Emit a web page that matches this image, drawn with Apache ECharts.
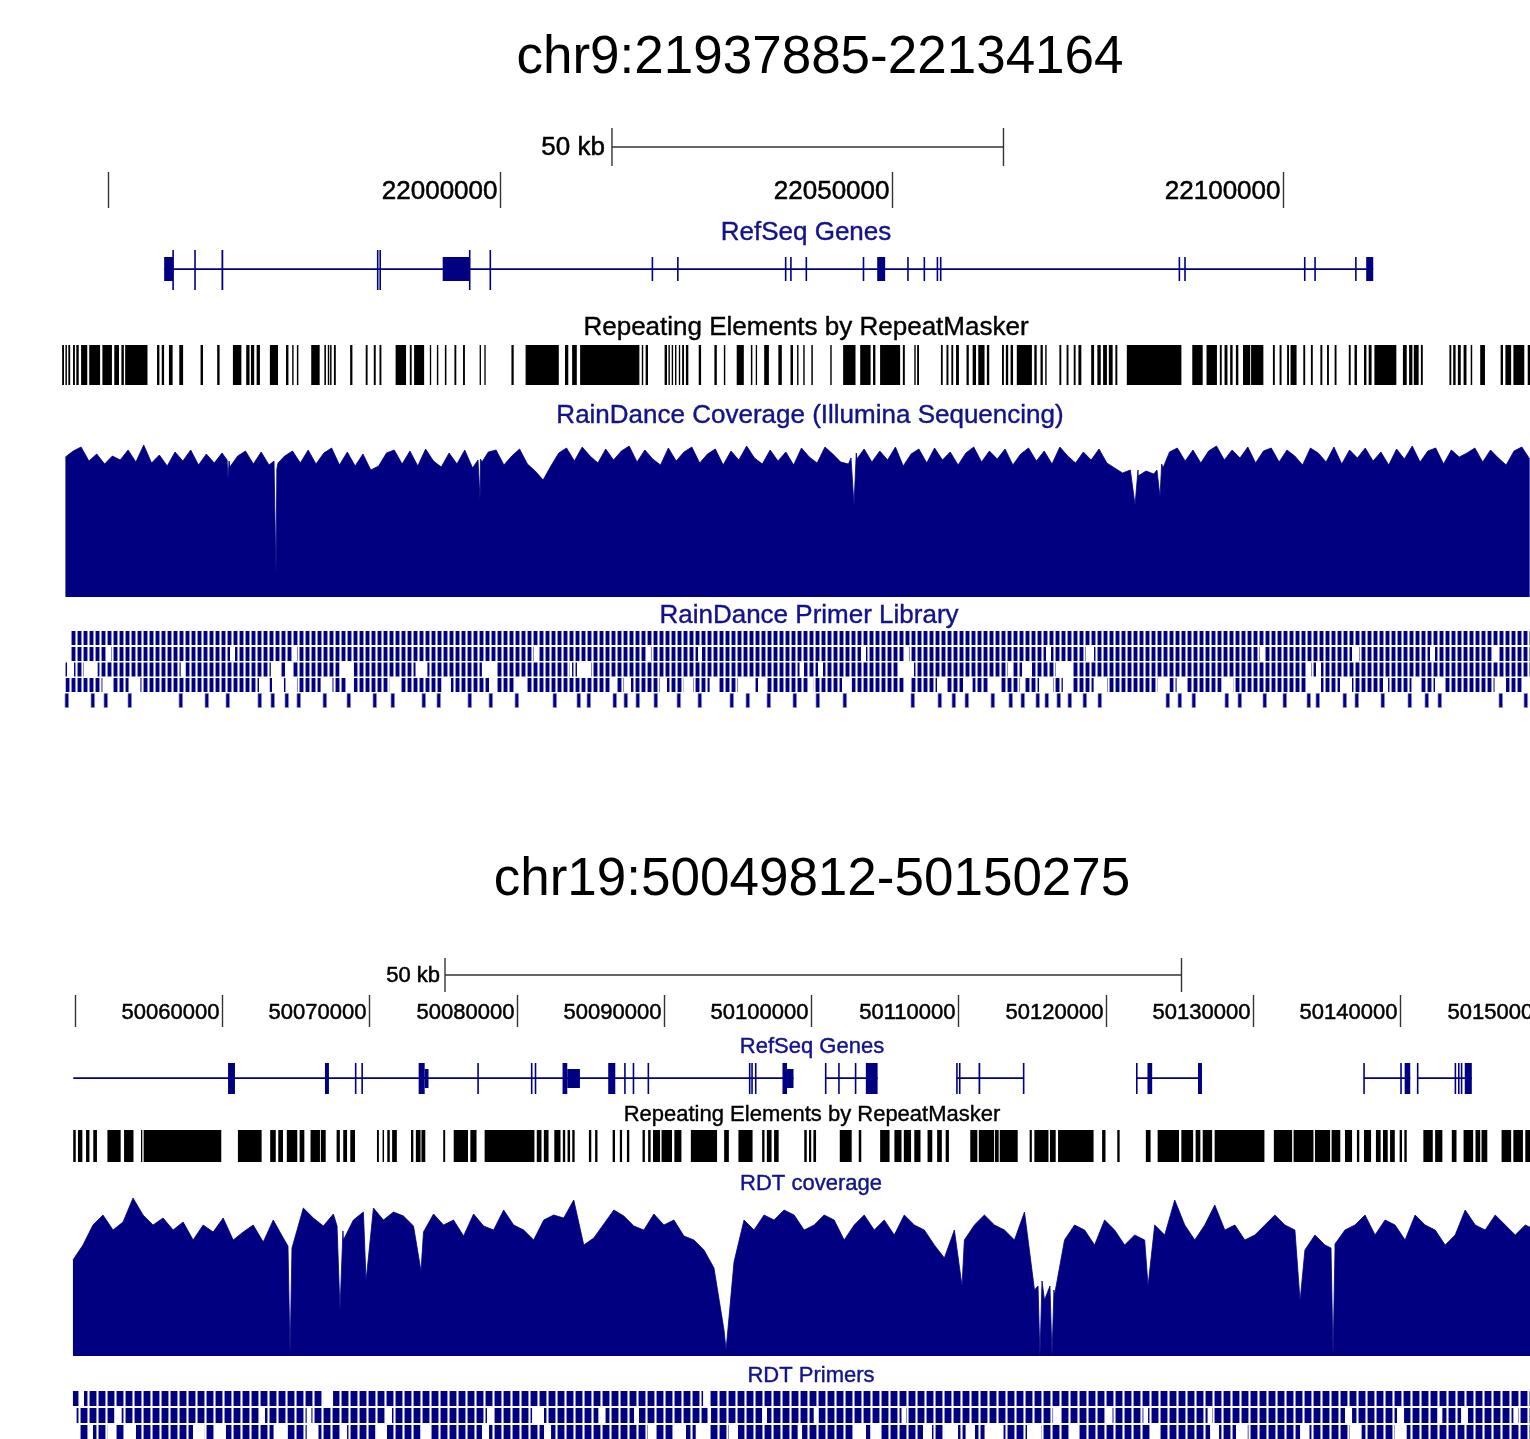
<!DOCTYPE html>
<html><head><meta charset="utf-8">
<script src="https://cdn.jsdelivr.net/npm/echarts@6/dist/echarts.min.js"></script>
<style>html,body{margin:0;padding:0;background:#fff}#c{width:1530px;height:1439px}</style>
</head><body><div id="c"></div>
<script>
// ===================== DATA (genomic positions in kb) =====================
const title1 = 'chr9:21937885-22134164';
const title2 = 'chr19:50049812-50150275';
const trackLabels1 = ['RefSeq Genes', 'Repeating Elements by RepeatMasker', 'RainDance Coverage (Illumina Sequencing)', 'RainDance Primer Library'];
const trackLabels2 = ['RefSeq Genes', 'Repeating Elements by RepeatMasker', 'RDT coverage', 'RDT Primers'];
const view1 = [21936.145, 22131.541];
const view2 = [50044.928, 50148.80];
const ticks1 = [21950, 22000, 22050, 22100];
const tickLabels1 = ['', '22000000', '22050000', '22100000'];
const ticks2 = [50050, 50060, 50070, 50080, 50090, 50100, 50110, 50120, 50130, 50140, 50150];
const tickLabels2 = ['', '50060000', '50070000', '50080000', '50090000', '50100000', '50110000', '50120000', '50130000', '50140000', '50150000'];
const scaleBar1 = [22014.30, 22064.30];
const scaleBar2 = [50075.14, 50125.14];
const scaleLabel = '50 kb';

// ---- panel 1 genes ----
const genes1Line = [[21957.11, 22111.52]];
const genes1Tall = [[21958.15, 21958.28], [21960.95, 21961.08], [21964.43, 21964.66], [21984.28, 21984.40], [21984.60, 21984.72], [21996.03, 21996.16], [21998.66, 21998.85]];
const genes1Std = [[21957.11, 21958.23], [21992.68, 21996.09], [22019.36, 22019.48], [22022.61, 22022.81], [22036.38, 22036.50], [22037.05, 22037.17], [22039.02, 22039.14],
  [22046.32, 22046.44], [22048.17, 22049.19], [22052.00, 22052.12], [22054.09, 22054.21], [22055.76, 22055.88], [22056.18, 22056.30], [22086.66, 22086.78],
  [22087.38, 22087.50], [22102.67, 22102.79], [22103.99, 22104.11], [22109.20, 22109.32], [22110.62, 22111.52]];

// ---- panel 1 repeats ----
const repeats1 = [[21944.08,21944.32],[21944.50,21944.69],[21944.87,21945.11],[21945.47,21945.71],[21945.89,21946.20],[21946.50,21947.29],[21947.54,21948.93],[21949.22,21950.44],[21950.74,21951.34],[21951.65,21951.96],[21952.13,21954.98],
[21956.20,21956.50],[21956.80,21957.10],[21957.72,21958.19],[21959.04,21959.53],[21961.76,21962.07],[21963.88,21964.19],
[21965.89,21966.97],[21967.59,21968.01],[21968.19,21968.61],[21968.92,21969.34],[21970.61,21971.65],[21972.67,21972.98],[21973.46,21973.64],[21974.06,21974.25],
[21975.89,21976.97],[21977.57,21977.77],[21978.01,21978.19],[21978.30,21978.49],[21978.79,21979.03],[21980.86,21981.15],[21982.85,21983.09],[21983.88,21984.13],[21984.61,21984.85],
[21986.67,21988.00],[21988.48,21988.72],[21989.03,21990.31],[21991.04,21991.21],[21991.94,21992.12],[21992.96,21993.16],[21994.18,21994.42],[21995.28,21995.52],
[21997.40,21997.57],[21998.00,21998.17],[22001.46,22001.75],[22003.27,22007.51],[22008.30,22008.72],[22009.21,22009.81],[22010.23,22017.80],[22018.11,22018.29],[22018.60,22018.90],
[22021.02,22021.33],[22021.51,22021.69],[22021.93,22022.11],[22022.35,22022.53],[22022.84,22023.01],[22023.26,22023.50],[22023.74,22024.05],
[22025.38,22025.68],[22027.38,22027.69],[22028.59,22028.77],[22030.23,22031.14],[22032.04,22032.23],[22032.66,22032.83],[22033.74,22034.34],[22035.55,22035.99],
[22037.10,22037.42],[22037.94,22038.12],[22038.73,22038.91],[22039.76,22039.95],[22042.18,22042.36],[22043.82,22045.40],[22046.00,22047.33],[22047.64,22047.94],[22048.54,22051.10],[22051.45,22051.70],[22052.91,22053.09],[22053.27,22053.51],
[22056.31,22056.54],[22057.02,22057.27],[22057.64,22057.88],[22058.24,22058.61],[22059.58,22059.87],[22060.36,22060.79],[22061.08,22061.88],[22062.18,22062.48],
[22064.11,22064.35],[22064.60,22064.90],[22065.21,22065.52],[22066.00,22067.93],[22068.24,22068.54],[22069.03,22069.32],[22069.63,22069.81],
[22071.44,22071.68],[22072.36,22072.60],[22073.27,22073.51],[22073.87,22074.24],[22075.50,22075.87],[22076.29,22076.72],[22077.02,22077.51],[22077.75,22078.24],[22078.59,22078.84],
[22080.05,22087.02],[22088.41,22089.74],[22090.23,22091.56],[22091.93,22092.17],[22092.53,22092.90],[22093.25,22093.56],[22093.98,22094.29],[22094.89,22095.81],[22095.92,22097.49],
[22098.71,22098.95],[22099.56,22099.81],[22100.52,22100.76],[22100.96,22101.73],[22102.59,22102.83],[22103.56,22103.80],[22104.77,22105.02],[22105.62,22105.86],[22106.59,22106.83],
[22108.40,22108.64],[22109.13,22109.44],[22110.34,22110.65],[22110.94,22111.31],[22111.67,22114.47],[22115.31,22115.80],[22116.10,22116.52],[22116.70,22117.32],[22117.61,22117.85],
[22121.25,22121.49],[22121.73,22122.04],[22122.33,22122.70],[22123.06,22123.43],[22123.97,22124.16],[22125.18,22125.79],[22127.79,22128.09],[22128.40,22129.13],[22129.42,22130.81],[22131.25,22131.54]];

// ---- panel 1 coverage (1 kb bins) ----
const cov1Start = 21944.5;
const cov1Step = 1.0;
const cov1Vals = [140,146,150,136,143,133,141,137,147,135,
152,134,142,131,145,136,147,132,143,134,
144,130,141,146,133,145,132,128,141,146,
134,147,133,144,149,132,145,131,143,127,
131,144,147,133,146,131,148,136,130,144,
133,147,129,138,145,147,132,141,148,133,
126,117,131,144,149,136,150,141,134,148,
137,146,151,135,147,138,132,149,136,145,
150,134,143,148,132,146,137,151,139,133,
147,136,145,132,149,140,134,150,143,135,
133,144,148,135,146,137,150,131,143,148,
134,149,137,145,132,144,150,135,146,138,
148,132,143,149,136,146,133,150,141,134,
145,137,148,134,129,124,127,121,126,123,
133,145,149,136,147,134,146,151,137,147,
139,150,134,146,149,135,147,141,132,149,
144,135,150,133,147,139,149,136,145,132,
148,138,151,135,146,149,133,147,140,144,
149,135,147,139,132,146,150,138];
const cov1Dips = [[21965.15,137],[21965.26,118],[21965.40,136],[21971.14,136],[21971.39,22],[21971.65,134],
[21997.19,137],[21997.45,97],[21997.70,135],[22044.83,139],[22045.21,92],[22045.59,138],
[22080.71,128],[22081.10,92],[22081.48,127],[22083.90,127],[22084.29,100],[22084.67,129]];

// ---- panel 1 primers ----
const primers1Row1 = [[21945.09, 22131.54]];
const primers1Row2 = [[21945.21,21949.68],[21950.32,21965.52],[21966.16,21973.44],[21974.07,22004.34],[22004.85,22018.77],[22019.28,22025.29],[22025.80,22046.10],[22046.74,22051.60],[22052.23,22069.73],[22070.37,22074.84],[22075.86,22097.06],[22097.57,22108.81],[22109.70,22118.77],[22119.41,22126.69],[22127.58,22131.54]];
const primers1Row3 = [[21944.45,21944.70],[21945.60,21946.87],[21948.62,21959.22],[21959.84,21970.73],[21971.90,21972.54],[21973.44,21979.52],[21981.34,21989.21],[21990.73,21997.69],[21999.49,22008.90],[22009.20,22009.83],[22011.62,22038.25],[22038.82,22040.61],[22041.25,22050.96],[22052.87,22064.88],[22065.52,22066.67],[22067.94,22071.01],[22073.05,22103.06],[22103.57,22104.21],[22104.85,22131.54]];
const primers1Row4 = [[21944.50,21949.22],[21950.45,21952.56],[21954.08,21969.22],[21970.56,21970.88],[21972.41,21972.73],[21974.07,21977.09],[21978.61,21980.42],[21981.35,21985.88],[21987.28,21992.54],[21993.74,21998.60],[21999.49,22001.92],[22003.45,22014.05],[22014.94,22015.84],[22016.73,22020.43],[22021.33,22023.44],[22024.65,22026.77],[22027.97,22030.40],[22032.57,22032.95],[22034.05,22039.46],[22040.06,22043.68],[22044.92,22051.58],[22052.49,22055.81],[22057.02,22059.13],[22060.36,22062.45],[22063.98,22066.41],[22067.02,22068.84],[22070.62,22071.88],[22073.05,22075.81],[22077.52,22083.98],[22085.50,22086.41],[22087.61,22092.17],[22093.68,22103.06],[22104.85,22107.28],[22108.81,22112.77],[22113.41,22116.40],[22117.62,22119.41],[22120.64,22127.01],[22128.48,22130.65]];
const primers1Row5 = [21944.45,21947.77,21949.43,21952.49,21959.01,21962.33,21965.01,21969.09,21970.75,21972.54,21974.07,21977.40,21980.46,21983.78,21986.08,21990.04,21991.95,21995.91,21998.60,22001.92,22006.77,22009.83,22011.11,22014.43,22015.84,22017.37,22019.67,22022.61,22025.29,22029.37,22031.42,22034.10,22037.42,22040.36,22043.81,22052.49,22055.94,22057.73,22059.39,22062.71,22065.00,22066.54,22068.45,22069.60,22071.13,22072.54,22074.46,22076.37,22085.06,22086.59,22088.38,22092.59,22094.25,22097.44,22100.00,22103.06,22104.21,22107.66,22109.19,22112.51,22115.96,22118.13,22119.79,22127.58,22130.78];
const primerLen1 = 0.45;

// ---- panel 2 genes ----
const genes2Lines = [[50049.90,50098.80],[50100.97,50104.51],[50109.88,50114.41],[50122.09,50126.53],[50137.52,50140.67],[50141.16,50144.85]];
const genes2Full = [[50060.41,50060.88],[50066.99,50067.26],[50069.02,50069.10],[50069.46,50069.54],[50073.35,50073.76],[50077.33,50077.43],[50080.97,50081.05],[50081.23,50081.31],
[50083.12,50083.44],[50086.22,50086.70],[50087.30,50087.38],[50087.88,50087.96],[50088.89,50088.97],[50095.77,50095.85],[50095.93,50096.01],[50096.18,50096.26],[50098.05,50098.36],
[50100.93,50101.01],[50101.83,50101.91],[50102.96,50103.04],[50103.71,50104.51],[50109.84,50109.92],[50110.03,50110.11],[50111.36,50111.48],[50114.37,50114.45],
[50122.05,50122.13],[50122.83,50123.15],[50126.26,50126.53],[50137.48,50137.56],[50139.99,50140.07],[50140.29,50140.67],[50141.12,50141.20],[50143.68,50143.76],[50143.91,50143.99],[50144.10,50144.18],[50144.37,50144.85]];
const genes2Half = [[50073.76,50074.02],[50083.44,50084.30],[50098.36,50098.80]];

// ---- panel 2 repeats ----
const repeats2 = [[50049.90,50050.07],[50050.22,50050.52],[50050.77,50051.00],[50051.26,50051.51],[50052.22,50053.12],[50053.35,50053.99],[50054.50,50054.58],[50054.68,50059.95],
[50061.08,50062.69],[50063.27,50063.65],[50063.82,50064.14],[50064.40,50065.11],[50065.27,50065.59],[50066.01,50066.65],[50066.71,50067.04],
[50067.78,50068.00],[50068.23,50068.49],[50068.71,50069.03],[50070.52,50070.65],[50070.90,50071.00],[50071.22,50071.39],[50071.55,50071.87],
[50072.83,50072.99],[50073.16,50073.48],[50073.54,50073.80],[50075.02,50075.15],[50075.73,50076.70],[50076.86,50077.28],
[50077.83,50081.21],[50081.37,50081.69],[50081.85,50082.17],[50082.56,50082.98],[50083.14,50083.30],[50083.46,50083.63],[50083.78,50083.94],
[50084.91,50085.07],[50085.33,50085.49],[50086.52,50086.68],[50087.01,50087.16],[50087.49,50087.65],
[50088.55,50088.71],[50088.93,50089.10],[50089.26,50089.74],[50089.84,50090.55],[50090.71,50091.19],[50091.83,50093.61],[50094.09,50094.41],[50095.06,50096.02],
[50096.67,50096.83],[50096.99,50097.31],[50097.48,50097.79],[50099.53,50099.70],[50099.85,50100.00],[50100.15,50100.33],
[50101.94,50102.75],[50103.23,50103.40],[50104.68,50105.32],[50105.65,50106.13],[50106.29,50106.78],[50107.00,50107.42],[50107.90,50108.22],[50108.55,50108.87],[50109.13,50109.35],
[50110.80,50111.28],[50111.38,50112.41],[50112.47,50112.73],[50112.80,50114.02],[50114.83,50114.98],[50115.15,50116.11],[50116.21,50116.60],[50116.76,50119.17],
[50119.75,50119.98],[50120.78,50120.94],[50122.72,50123.04],[50123.52,50124.97],[50125.13,50125.93],[50126.10,50126.42],[50126.58,50127.22],[50127.39,50130.77],
[50131.41,50132.65],[50132.75,50134.10],[50134.20,50135.23],[50135.33,50135.92],[50136.24,50136.72],[50137.05,50137.21],[50137.53,50138.01],[50138.34,50138.66],[50138.82,50139.14],[50139.30,50139.62],[50139.95,50140.11],[50140.27,50140.43],
[50141.56,50142.20],[50142.36,50142.85],[50143.49,50143.81],[50144.29,50144.94],[50145.10,50145.42],[50145.51,50145.90],[50146.87,50147.52],[50147.67,50148.32],[50148.48,50148.80]];

// ---- panel 2 coverage (0.68 kb bins) ----
const cov2Start = 50049.88;
const cov2Step = 0.68;
const cov2Vals = [96,111,131,141,126,134,158,141,131,138,
126,134,116,131,124,138,116,124,131,114,
136,118,106,148,138,130,142,116,136,144,
148,136,144,140,130,124,142,131,136,120,
142,130,126,146,131,126,116,136,141,138,
156,111,118,132,146,140,130,126,142,131,
136,120,116,106,88,26,94,136,126,141,
136,146,141,126,131,141,136,116,131,141,
126,136,121,141,131,126,111,98,126,116,
131,141,131,126,116,144,66,56,61,116,
131,126,111,136,126,111,121,116,131,121,
156,131,116,131,151,126,131,116,121,131,
141,131,126,106,121,111,106,126,131,141,
121,136,131,116,141,131,126,111,121,146,
131,126,141,131,121,131,126];
const cov2Dips = [[50064.48,110],[50064.62,1],[50064.75,108],[50067.81,130],[50068.01,46],[50068.21,125],[50069.78,75],[50073.51,85],[50094.22,6],[50110.24,70],
[50115.40,70],[50115.53,0],[50115.67,75],[50116.21,70],[50116.35,0],[50116.48,66],[50122.87,70],[50133.19,55],[50135.29,108],[50135.43,0],[50135.56,112]];

// ---- panel 2 primers ----
const primers2Row1 = [[50049.88,50050.29],[50050.63,50066.86],[50067.54,50092.66],[50093.13,50148.80]];
const primers2Row2 = [[50050.13,50052.70],[50053.19,50062.51],[50062.92,50065.75],[50066.07,50071.07],[50071.54,50077.99],[50078.47,50081.05],[50081.86,50085.55],[50086.04,50087.97],[50088.31,50092.96],[50093.20,50096.66],[50097.00,50100.17],[50100.50,50106.13],[50106.44,50116.42],[50116.89,50119.98],[50120.46,50122.55],[50122.87,50126.91],[50127.22,50136.24],[50136.72,50139.77],[50140.25,50142.52],[50142.85,50144.12],[50144.59,50147.67],[50147.99,50148.80]];
const primers2Row3 = [[50050.29,50050.94],[50051.24,50052.22],[50052.74,50053.41],[50054.16,50058.03],[50058.83,50059.46],[50060.27,50063.50],[50064.46,50065.75],[50066.55,50068.01],[50068.49,50070.42],[50071.20,50073.48],[50074.12,50077.65],[50078.13,50081.86],[50082.34,50088.92],[50089.40,50090.69],[50091.50,50092.16],[50093.13,50094.42],[50095.03,50099.08],[50099.38,50102.91],[50103.72,50104.03],[50104.67,50107.59],[50108.20,50109.02],[50109.97,50110.48],[50111.12,50111.77],[50113.06,50114.65],[50115.63,50117.57],[50118.18,50123.04],[50123.68,50127.08],[50127.69,50128.84],[50129.64,50133.19],[50133.83,50136.57],[50137.37,50139.62],[50140.43,50148.80]];

// ===================== RENDERING =====================
const NAVY = '#000080';
const LABEL_NAVY = '#12128a';
const FONT = '"Liberation Sans", Arial, Helvetica, sans-serif';

function stripe(w, bar) {
  const c = document.createElement('canvas');
  c.width = w; c.height = 8;
  const g = c.getContext('2d');
  g.fillStyle = '#ffffff'; g.fillRect(0, 0, w, 8);
  g.fillStyle = NAVY; g.fillRect(0, 0, bar, 8);
  g.fillStyle = '#8d8dc8'; g.fillRect(bar, 0, 1, 8); g.fillRect(w - 1, 0, 1, 8);
  return { image: c, repeat: 'repeat' };
}
const pat1 = stripe(6, 3);
const pat2 = stripe(9, 6);

function bars(axis, data, top, height, fill, minW, stroke) {
  return {
    type: 'custom', xAxisIndex: axis, yAxisIndex: axis, data: data, silent: true, animation: false,
    renderItem: function (p, api) {
      const a = api.coord([api.value(0), top]);
      const b = api.coord([api.value(1), top + height]);
      const w = Math.max(b[0] - a[0], minW);
      return { type: 'rect', shape: { x: a[0], y: a[1], width: w, height: b[1] - a[1] },
        style: { fill: fill, stroke: stroke || null, lineWidth: stroke ? 0.7 : 0 } };
    }
  };
}

function labelStyle(text, fs, color, align, weightStroke) {
  return { text: text, font: fs + 'px ' + FONT, fill: color,
    stroke: weightStroke ? color : null, lineWidth: weightStroke || 0,
    align: align, verticalAlign: 'middle', textAlign: align, textVerticalAlign: 'middle' };
}

function axisTicks(axis, ticks, labels, y0, y1, fs) {
  return {
    type: 'custom', xAxisIndex: axis, yAxisIndex: axis, data: ticks.map(function (t, i) { return [t, i]; }),
    silent: true, animation: false,
    renderItem: function (p, api) {
      const a = api.coord([api.value(0), y0]);
      const b = api.coord([api.value(0), y1]);
      const x = Math.round(a[0]) + 0.5;
      return { type: 'group', children: [
        { type: 'line', shape: { x1: x, y1: a[1], x2: x, y2: b[1] }, style: { stroke: '#333', lineWidth: 1.4 } },
        { type: 'text', x: x - 3, y: (a[1] + b[1]) / 2 + 2,
          style: labelStyle(labels[p.dataIndex], fs, '#000', 'right', 0.5) }
      ] };
    }
  };
}

function scaleBar(axis, bar, yMid, half, fs, gap) {
  return {
    type: 'custom', xAxisIndex: axis, yAxisIndex: axis, data: [bar], silent: true, animation: false,
    renderItem: function (p, api) {
      const a = api.coord([api.value(0), yMid]);
      const b = api.coord([api.value(1), yMid]);
      const top = api.coord([api.value(0), yMid - half])[1];
      const bot = api.coord([api.value(0), yMid + half])[1];
      return { type: 'group', children: [
        { type: 'line', shape: { x1: a[0], y1: a[1], x2: b[0], y2: b[1] }, style: { stroke: '#333', lineWidth: 1.4 } },
        { type: 'line', shape: { x1: a[0], y1: top, x2: a[0], y2: bot }, style: { stroke: '#333', lineWidth: 1.4 } },
        { type: 'line', shape: { x1: b[0], y1: top, x2: b[0], y2: bot }, style: { stroke: '#333', lineWidth: 1.4 } },
        { type: 'text', x: a[0] - gap, y: a[1] + 1, style: labelStyle(scaleLabel, fs, '#000', 'right', 0.5) }
      ] };
    }
  };
}

function coverage(axis, start, step, vals, dips) {
  const pts = vals.map(function (v, i) { return [start + i * step, v]; }).concat(dips);
  pts.sort(function (a, b) { return a[0] - b[0]; });
  return {
    type: 'line', xAxisIndex: axis, yAxisIndex: axis, data: pts, showSymbol: false, symbol: 'none',
    silent: true, animation: false,
    lineStyle: { color: NAVY, width: 0.8 }, areaStyle: { color: NAVY, opacity: 1 }
  };
}

function txt(x, y, text, fs, color, ws) {
  return { type: 'text', x: x, y: y, silent: true, style: labelStyle(text, fs, color, 'center', ws) };
}

const H = 1439;
const option = {
  backgroundColor: '#ffffff',
  animation: false,
  grid: [
    { left: 0, right: 0, top: 0, bottom: 0 },
    { left: 0, right: 0, top: 437, height: 160 },
    { left: 0, right: 0, top: 0, bottom: 0 },
    { left: 0, right: 0, top: 1186, height: 170 }
  ],
  xAxis: [
    { type: 'value', gridIndex: 0, min: view1[0], max: view1[1], show: false },
    { type: 'value', gridIndex: 1, min: view1[0], max: view1[1], show: false },
    { type: 'value', gridIndex: 2, min: view2[0], max: view2[1], show: false },
    { type: 'value', gridIndex: 3, min: view2[0], max: view2[1], show: false }
  ],
  yAxis: [
    { type: 'value', gridIndex: 0, min: 0, max: H, inverse: true, show: false },
    { type: 'value', gridIndex: 1, min: 0, max: 160, show: false },
    { type: 'value', gridIndex: 2, min: 0, max: H, inverse: true, show: false },
    { type: 'value', gridIndex: 3, min: 0, max: 170, show: false }
  ],
  graphic: { elements: [
    txt(820, 58, title1, 53, '#000', 0),
    txt(806, 233, trackLabels1[0], 26, LABEL_NAVY, 0.4),
    txt(806, 328, trackLabels1[1], 26, '#000', 0.4),
    txt(810, 416, trackLabels1[2], 26, LABEL_NAVY, 0.4),
    txt(809, 616, trackLabels1[3], 26, LABEL_NAVY, 0.4),
    txt(812, 880, title2, 53, '#000', 0),
    txt(812, 1047, trackLabels2[0], 22, LABEL_NAVY, 0.4),
    txt(812, 1115, trackLabels2[1], 22, '#000', 0.4),
    txt(811, 1184, trackLabels2[2], 22, LABEL_NAVY, 0.4),
    txt(811, 1376, trackLabels2[3], 22, LABEL_NAVY, 0.4)
  ] },
  series: [
    // panel 1
    scaleBar(0, scaleBar1, 147, 19, 26, 7),
    axisTicks(0, ticks1, tickLabels1, 172, 208, 26),
    bars(0, genes1Line, 268.2, 1.8, NAVY, 1),
    bars(0, genes1Std, 257, 24, NAVY, 1.6),
    bars(0, genes1Tall, 250, 40, NAVY, 1.6),
    bars(0, repeats1, 345, 40, '#000000', 1.3),
    coverage(1, cov1Start, cov1Step, cov1Vals, cov1Dips),
    bars(0, primers1Row1, 631, 14, pat1, 1),
    bars(0, primers1Row2, 647, 14, pat1, 1),
    bars(0, primers1Row3, 662.5, 14, pat1, 1),
    bars(0, primers1Row4, 678, 14, pat1, 1),
    bars(0, primers1Row5.map(function (s) { return [s, s + primerLen1]; }), 693.5, 14, NAVY, 2, '#8d8dc8'),
    // panel 2
    scaleBar(2, scaleBar2, 975, 17, 22, 5),
    axisTicks(2, ticks2, tickLabels2, 995, 1027, 22),
    bars(2, genes2Lines, 1077.3, 1.6, NAVY, 1),
    bars(2, genes2Half, 1069, 19, NAVY, 1.6),
    bars(2, genes2Full, 1063, 31, NAVY, 1.6),
    bars(2, repeats2, 1130, 32, '#000000', 1.3),
    coverage(3, cov2Start, cov2Step, cov2Vals, cov2Dips),
    bars(2, primers2Row1, 1391, 15, pat2, 1),
    bars(2, primers2Row2, 1408, 15, pat2, 1),
    bars(2, primers2Row3, 1425, 15, pat2, 1)
  ]
};
const chart = echarts.init(document.getElementById('c'), null, { renderer: 'canvas', width: 1530, height: 1439 });
chart.setOption(option);
</script>
</body></html>
